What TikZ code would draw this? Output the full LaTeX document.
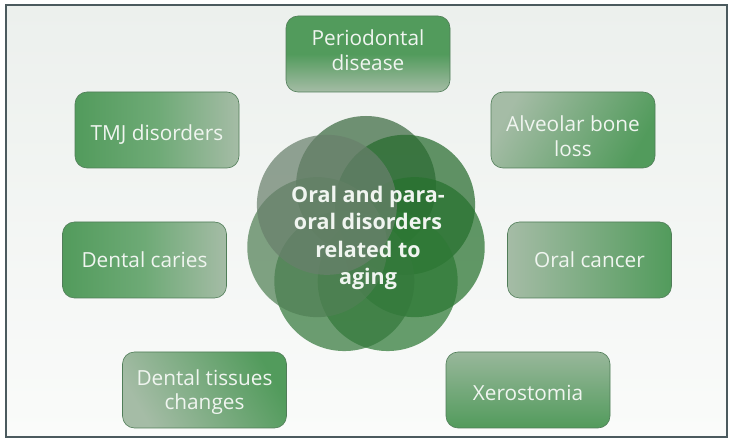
\documentclass[tikz,border=0pt]{standalone}
\usepackage{fontspec}
\setmainfont{Open Sans}
\usetikzlibrary{calc}
\begin{document}
\begin{tikzpicture}[x=1pt,y=1pt,
  boxstyle/.style={draw=boxedge, line width=0.6pt, rounded corners=12pt,
    minimum width=164pt, minimum height=76pt, inner sep=0pt},
  boxtext/.style={align=center, text=textwhite, font=\fontsize{20.8}{24.5}\selectfont, inner sep=0pt},
  petal/.style={fill=#1, fill opacity=0.72, draw=none}
]
\definecolor{boxedge}{RGB}{80,125,88}
\definecolor{textwhite}{RGB}{240,245,240}
\definecolor{gdark}{RGB}{82,155,92}
\definecolor{glight}{RGB}{165,188,166}
\definecolor{gmid}{RGB}{110,170,118}
\definecolor{framecol}{RGB}{75,90,94}
\definecolor{bgtop}{RGB}{236,240,237}
\definecolor{bgbot}{RGB}{250,251,250}
\definecolor{cTL}{RGB}{105,128,108}
\definecolor{cL}{RGB}{81,128,85}
\definecolor{cBL}{RGB}{53,121,60}
\definecolor{cBR}{RGB}{46,121,53}
\definecolor{cR}{RGB}{39,114,46}
\definecolor{cTR}{RGB}{39,107,46}
\definecolor{cT}{RGB}{60,107,66}
\useasboundingbox (0,0) rectangle (732,445);
\fill[white] (0,0) rectangle (732,445);
\shade[top color=bgtop, bottom color=bgbot] (6,8) rectangle (727,440);
\draw[framecol, line width=1.4pt] (6,8) rectangle (727,440);
% central petals
\coordinate (c) at (366,209);
\fill[petal=cT]  ($(c)+(90:50)$) circle (70);
\fill[petal=cTR] ($(c)+(38.57:50)$) circle (70);
\fill[petal=cR]  ($(c)+(-12.86:50)$) circle (70);
\fill[petal=cBR] ($(c)+(-64.29:50)$) circle (70);
\fill[petal=cBL] ($(c)+(-115.71:50)$) circle (70);
\fill[petal=cL]  ($(c)+(-167.14:50)$) circle (70);
\fill[petal=cTL] ($(c)+(141.43:50)$) circle (70);
\node[text=textwhite, font=\bfseries\fontsize{21.5}{27.5}\selectfont, align=center] (center) at (368,207)
  {Oral and para-\\oral disorders\\related to\\aging};
% boxes
\node[boxstyle, top color=gdark, bottom color=glight, middle color=gdark] (perio) at (368,391) {};
\node[boxstyle, left color=glight, right color=gdark, shading angle=60] (alv) at (573,315) {};
\node[boxstyle, left color=glight, right color=gdark] (cancer) at (589.5,185) {};
\node[boxstyle, top color=glight!85!gdark, bottom color=gdark] (xero) at (528,55) {};
\node[boxstyle, left color=glight, right color=gdark, shading angle=120] (tissue) at (204.5,55) {};
\node[boxstyle, left color=gdark, right color=glight, middle color=gmid] (caries) at (144.5,185) {};
\node[boxstyle, left color=gdark, right color=glight, middle color=gmid] (tmj) at (157,315) {};
% labels
\node[boxtext] (periot) at ($(perio)+(0,4)$) {Periodontal\\disease};
\node[boxtext] (alvt) at ($(alv)+(0,-6)$) {Alveolar bone\\loss};
\node[boxtext] (cancert) at (cancer) {Oral cancer};
\node[boxtext] (xerot) at ($(xero)+(0,-3)$) {Xerostomia};
\node[boxtext] (tissuet) at ($(tissue)+(0,-2)$) {Dental tissues\\changes};
\node[boxtext] (cariest) at (caries) {Dental caries};
\node[boxtext] (tmjt) at ($(tmj)+(0,-5)$) {TMJ disorders};
\end{tikzpicture}
\end{document}
